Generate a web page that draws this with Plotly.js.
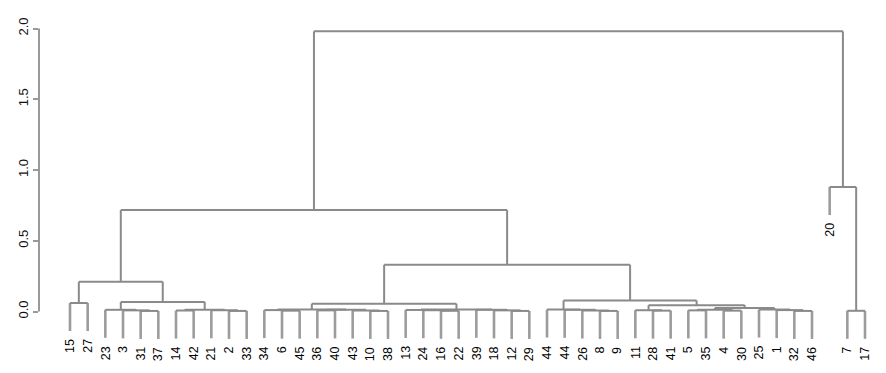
<!DOCTYPE html>
<html>
<head>
<meta charset="utf-8">
<script src="https://cdn.plot.ly/plotly-3.0.1.min.js"></script>
<style>html,body{margin:0;padding:0;background:#fff;}#chart{width:886px;height:373px;}</style>
</head>
<body>
<div id="chart"></div>
<script>
// Leaf labels in plotting order (left to right)
var leafLabels = ["15","27","23","3","31","37","14","42","21","2","33","34","6","45","36","40","43","10","38",
  "13","24","16","22","39","18","12","29","44","44","26","8","9","11","28","41","5","35","4","30","25","1","32","46",
  "20","7","17"];

// Merges (hclust style): negative = leaf position in order (1-based), positive = merge row (1-based)
var mergeLeft  = [-1,-5,-4,-3,-7,-10,-9, 5, 4, 1,-13,-12,-15,-18,-17,13,12,-22,-21,-20,-26,-25,-24,20,17,-31,-30,-29,-28,-34,-33,-36,-38,32,-42,-41,-40,34,31,29,25,10,-45,-44,42];
var mergeRight = [-2,-6, 2, 3,-8,-11, 6, 7, 8, 9,-14, 11,-16,-19, 14,15,16,-23, 18, 19,-27, 21, 22,23,24,-32, 26, 27, 28,-35, 30,-37,-39,33,-43, 35, 36,37,38,39,40,41,-46, 43,44];
var mergeHeight = [0.060,0.004,0.008,0.012,0.007,0.004,0.009,0.013,0.067,0.210,
  0.006,0.010,0.008,0.004,0.007,0.012,0.015,0.005,0.009,0.011,0.004,0.008,0.012,0.014,0.055,
  0.004,0.007,0.012,0.014,0.006,0.009,0.008,0.006,0.012,0.004,0.010,0.014,0.025,0.045,0.078,
  0.330,0.717,0.005,0.880,1.980];

var yTicks = [0, 0.5, 1.0, 1.5, 2.0];
var hang = 0.1 * (Math.max.apply(null, mergeHeight));

// compute node positions
var mx = [];
function nodeX(id) {
  if (id < 0) return -id;
  if (mx[id] !== undefined) return mx[id];
  var v = (nodeX(mergeLeft[id-1]) + nodeX(mergeRight[id-1])) / 2;
  mx[id] = v; return v;
}
var innerX = [], innerY = [], leafX = [], leafY = [];
var leafBottom = {};
for (var i = 0; i < mergeHeight.length; i++) {
  var h = mergeHeight[i];
  var kids = [mergeLeft[i], mergeRight[i]];
  var xs = kids.map(nodeX);
  innerX.push(xs[0], xs[1], null); innerY.push(h, h, null);
  kids.forEach(function (k, j) {
    if (k < 0) {
      var b = h - hang;
      leafBottom[-k] = b;
      leafX.push(xs[j], xs[j], null); leafY.push(h, b, null);
    } else {
      innerX.push(xs[j], xs[j], null); innerY.push(h, mergeHeight[k-1], null);
    }
  });
}

var annotations = leafLabels.map(function (lab, i) {
  var p = i + 1;
  return {x: p, y: leafBottom[p], xref: 'x', yref: 'y', text: lab, showarrow: false,
    textangle: -90, xanchor: 'center', yanchor: 'top', yshift: -6,
    font: {family: 'Liberation Sans, Arial, sans-serif', size: 12.5, color: '#000'}};
});

var traces = [
  {x: leafX, y: leafY, mode: 'lines', type: 'scatter', hoverinfo: 'skip',
   line: {color: '#9c9c9c', width: 2.6}, connectgaps: false},
  {x: innerX, y: innerY, mode: 'lines', type: 'scatter', hoverinfo: 'skip',
   line: {color: '#8a8a8a', width: 2}, connectgaps: false}
];

var layout = {
  width: 886, height: 373,
  margin: {l: 39, r: 6, t: 20, b: 33},
  paper_bgcolor: '#fff', plot_bgcolor: '#fff',
  showlegend: false,
  xaxis: {visible: false, range: [-0.7547, 46.849], fixedrange: true},
  yaxis: {range: [-0.2014, 2.0601], tickvals: yTicks, tickformat: '.1f',
    ticks: 'outside', ticklen: 5, tickwidth: 2, tickcolor: '#999',
    tickangle: -90, showgrid: false, zeroline: false, showline: false,
    tickfont: {family: 'Liberation Sans, Arial, sans-serif', size: 13, color: '#111'}},
  shapes: [{type: 'line', xref: 'paper', yref: 'y', x0: 0, x1: 0, y0: 0, y1: 2,
    line: {color: '#999', width: 2}}],
  annotations: annotations
};

Plotly.newPlot('chart', traces, layout, {displayModeBar: false, staticPlot: true});
</script>
</body>
</html>
